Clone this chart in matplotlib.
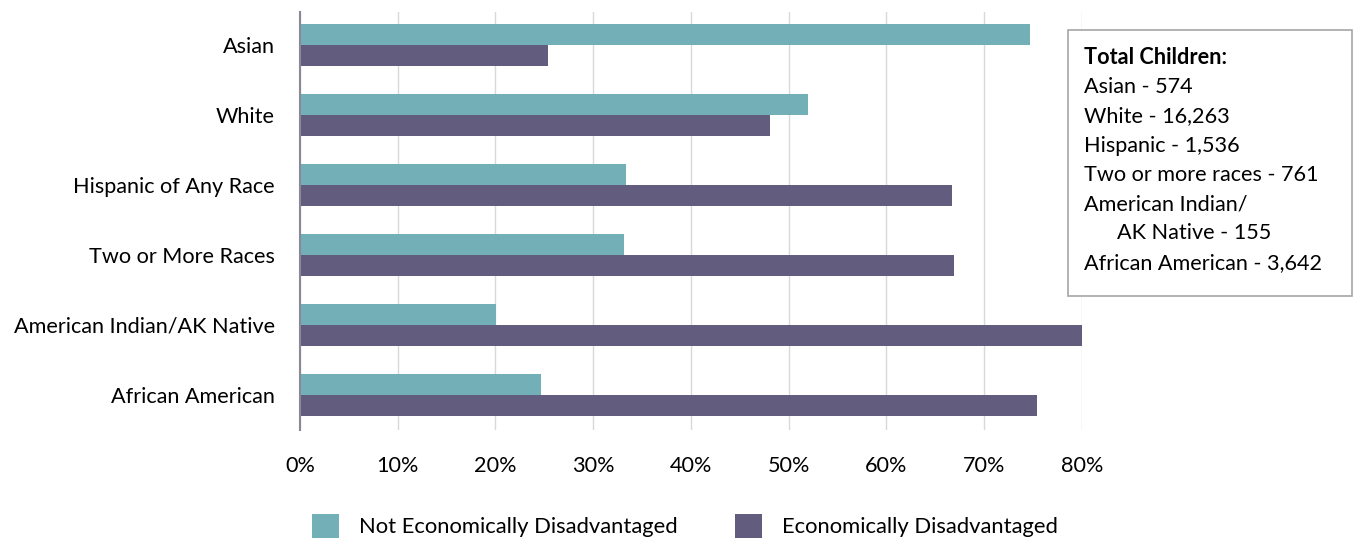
import matplotlib.pyplot as plt
import numpy as np

plt.rcParams['font.family'] = ['Lato', 'DejaVu Sans']

# Data
categories = ["Asian", "White", "Hispanic of Any Race", "Two or More Races",
              "American Indian/AK Native", "African American"]
not_disadv = [74.7, 52.0, 33.4, 33.1, 20.1, 24.7]
disadv = [25.4, 48.1, 66.7, 66.9, 80.0, 75.4]
x_ticks = [0, 10, 20, 30, 40, 50, 60, 70, 80]
tick_labels = ["0%", "10%", "20%", "30%", "40%", "50%", "60%", "70%", "80%"]
totals_title = "Total Children:"
totals_lines = ["Asian - 574", "White - 16,263", "Hispanic - 1,536",
                "Two or more races - 761", "American Indian/",
                "      AK Native - 155", "African American - 3,642"]

teal = "#72AFB6"
purple = "#625C7E"

fig = plt.figure(figsize=(13.56, 5.4), dpi=100)
ax = fig.add_axes([0.2212, 0.2037, 0.5767, 0.7743])

y = np.arange(len(categories))
h = 0.3
ax.barh(y - h / 2, not_disadv, height=h, color=teal, label="Not Economically Disadvantaged", zorder=3)
ax.barh(y + h / 2, disadv, height=h, color=purple, label="Economically Disadvantaged", zorder=3)

ax.set_xlim(0, 80)
ax.set_ylim(5.5, -0.47)
ax.set_yticks(y)
ax.set_yticklabels(categories, fontsize=15.6)
ax.set_xticks(x_ticks)
ax.set_xticklabels(tick_labels, fontsize=15.6)
ax.tick_params(axis="both", length=0)
ax.tick_params(axis="x", pad=19)
ax.tick_params(axis="y", pad=18)
ax.grid(True, axis="x", color="#d9d9d9", linewidth=1, zorder=0)

for s in ["top", "right", "bottom"]:
    ax.spines[s].set_visible(False)
ax.spines["left"].set_color("#8a8798")
ax.spines["left"].set_linewidth(1.5)
ax.spines["left"].set_zorder(4)

# Totals box
fig.patches.append(plt.Rectangle((1068 / 1356, 1 - 296 / 540), 284 / 1356, 266 / 540,
                                 transform=fig.transFigure, facecolor="white",
                                 edgecolor="#a6a6a6", linewidth=1.2, zorder=5))
fig.text(1084 / 1356, 1 - 58 / 540, totals_title, fontsize=15.6, fontweight="bold",
         va="center", zorder=6)
for i, line in enumerate(totals_lines):
    fig.text(1084 / 1356, 1 - (87 + i * 29.3) / 540, line, fontsize=15.6, va="center", zorder=6)

fig.legend(loc="upper center", bbox_to_anchor=(0.505, 0.085), ncol=2, frameon=False,
           fontsize=15.8, handlelength=1.25, handleheight=1.35, columnspacing=2.6,
           handletextpad=0.9)

fig.savefig("out.png", dpi=100)
